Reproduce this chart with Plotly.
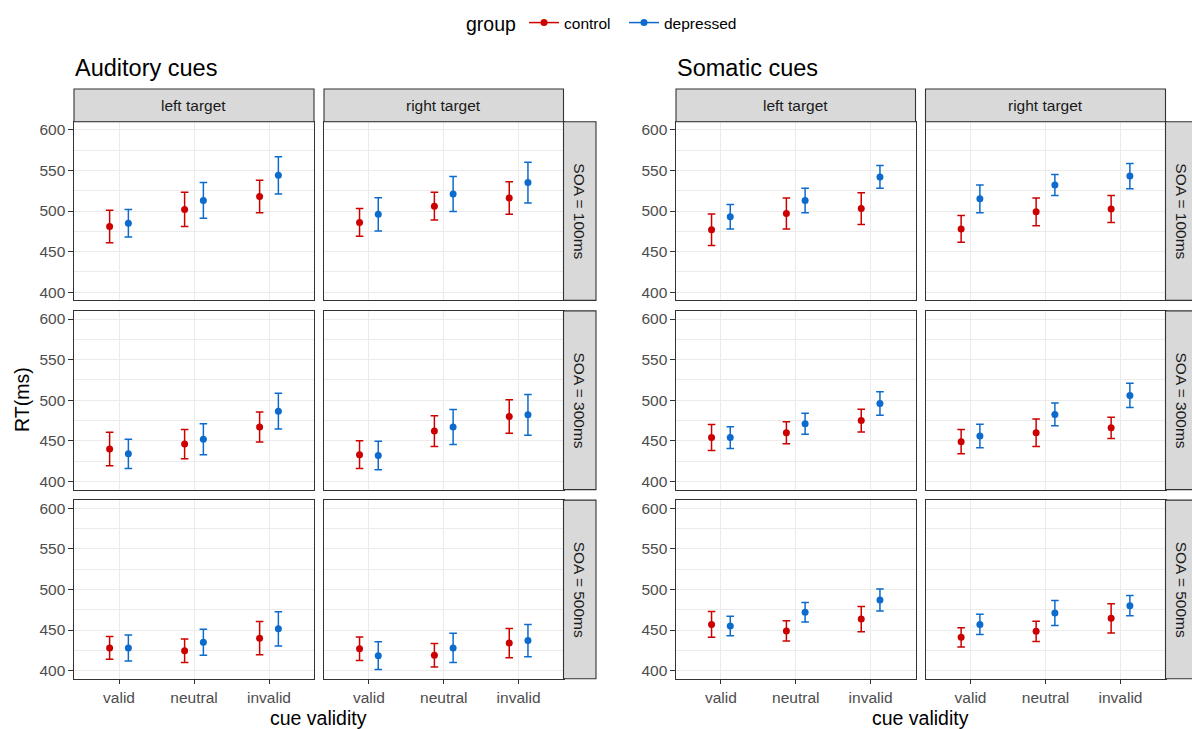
import plotly.graph_objects as go

W, H = 1192, 729

# ---- data -------------------------------------------------------------
modalities = ["Auditory cues", "Somatic cues"]
targets = ["left target", "right target"]
soas = ["SOA = 100ms", "SOA = 300ms", "SOA = 500ms"]
validity = ["valid", "neutral", "invalid"]
groups = ["control", "depressed"]

# mean RT (ms) and error half-width, indexed [soa][target][validity]
aud_control_mean = [
    [[481, 502, 518], [486, 506, 516]],
    [[440, 446, 467], [433, 462, 480]],
    [[428, 424.5, 440], [427, 419, 434]],
]
aud_control_err = [
    [[20, 21, 20], [17, 17, 20]],
    [[20.5, 18, 18.5], [17, 19, 20.5]],
    [[14, 14.5, 20.5], [14.5, 14.5, 18]],
]
aud_depressed_mean = [
    [[485, 513, 544], [496, 521, 535]],
    [[434, 452, 486.5], [432, 467, 482]],
    [[428, 435, 451.5], [418.5, 428, 437]],
]
aud_depressed_err = [
    [[17, 22, 23], [20.5, 21.5, 25]],
    [[18, 19, 22], [17.5, 21.5, 25]],
    [[16, 16, 21], [17, 18, 20]],
]
som_control_mean = [
    [[477, 497, 503], [478, 499, 502.5]],
    [[454, 460, 475], [449, 460, 466]],
    [[457, 449, 463.5], [441, 448.5, 464.5]],
]
som_control_err = [
    [[19.5, 19, 19.5], [16.5, 17, 16.5]],
    [[16, 13.5, 14], [15, 17, 13]],
    [[16, 12.5, 15.5], [12, 12.5, 18]],
]
som_depressed_mean = [
    [[493, 513, 542], [515, 532, 543]],
    [[454, 471, 496], [456, 482.5, 506]],
    [[455, 472, 487], [457, 471, 480]],
]
som_depressed_err = [
    [[15, 15, 14], [17, 13, 15.5]],
    [[13.5, 13, 14.5], [14.5, 14, 15]],
    [[12, 12, 13.5], [12.5, 15.5, 12.5]],
]

y_ticks = [400, 450, 500, 550, 600]

# ---- styling ----------------------------------------------------------
FONT = "Liberation Sans, Arial, Helvetica, sans-serif"
colors = {"control": "#CD0000", "depressed": "#0C6BCD"}
dodge = {"control": -0.125, "depressed": 0.125}
series = {
    ("Auditory cues", "control"): (aud_control_mean, aud_control_err),
    ("Auditory cues", "depressed"): (aud_depressed_mean, aud_depressed_err),
    ("Somatic cues", "control"): (som_control_mean, som_control_err),
    ("Somatic cues", "depressed"): (som_depressed_mean, som_depressed_err),
}

# panel geometry in pixels
col_px = {
    "Auditory cues": [(74, 314), (324, 563.5)],
    "Somatic cues": [(676, 915.5), (925.5, 1165.5)],
}
row_px = [(121.7, 300.4), (310.9, 489.6), (500.1, 678.8)]
strip_top = 89.0
strip_w = 32.5


def px_x(v):
    return v / W


def px_y(v):
    return 1 - v / H


fig = go.Figure()
layout = {}
shapes = []
annotations = []

n = 0
for modality in modalities:
    for r in range(3):
        for c in range(2):
            n += 1
            xa = "x" if n == 1 else f"x{n}"
            ya = "y" if n == 1 else f"y{n}"
            x0, x1 = col_px[modality][c]
            y0, y1 = row_px[r]
            bottom = r == 2
            left = c == 0
            layout["xaxis" if n == 1 else f"xaxis{n}"] = dict(
                domain=[px_x(x0), px_x(x1)],
                anchor=ya,
                range=[0.4, 3.6],
                tickvals=[1, 2, 3],
                ticktext=validity,
                showticklabels=bottom,
                ticks="outside" if bottom else "",
                ticklen=4.5,
                tickwidth=1.1,
                tickcolor="#333333",
                tickfont=dict(family=FONT, size=15.5, color="#4D4D4D"),
                showgrid=True,
                gridcolor="#EBEBEB",
                gridwidth=1.2,
                zeroline=False,
                showline=True,
                mirror=True,
                linecolor="#333333",
                linewidth=1.1,
                fixedrange=True,
            )
            layout["yaxis" if n == 1 else f"yaxis{n}"] = dict(
                domain=[px_y(y1), px_y(y0)],
                anchor=xa,
                range=[390, 610],
                tickvals=y_ticks,
                showticklabels=left,
                ticks="outside" if left else "",
                ticklen=4.5,
                tickwidth=1.1,
                tickcolor="#333333",
                tickfont=dict(family=FONT, size=15.5, color="#4D4D4D"),
                showgrid=True,
                gridcolor="#EBEBEB",
                gridwidth=1.2,
                minor=dict(
                    tickvals=[425, 475, 525, 575],
                    showgrid=True,
                    gridcolor="#EBEBEB",
                    gridwidth=0.6,
                    ticks="",
                ),
                zeroline=False,
                showline=True,
                mirror=True,
                linecolor="#333333",
                linewidth=1.1,
                fixedrange=True,
            )

            for g in groups:
                mean, err = series[(modality, g)]
                fig.add_trace(
                    go.Scatter(
                        x=[i + 1 + dodge[g] for i in range(len(validity))],
                        y=mean[r][c],
                        error_y=dict(
                            type="data",
                            array=err[r][c],
                            color=colors[g],
                            thickness=1.5,
                            width=3.8,
                        ),
                        mode="markers",
                        marker=dict(color=colors[g], size=7),
                        name=g,
                        showlegend=False,
                        xaxis=xa,
                        yaxis=ya,
                    )
                )

            # top strips
            if r == 0:
                shapes.append(dict(
                    type="rect", xref="paper", yref="paper",
                    x0=px_x(x0), x1=px_x(x1), y0=px_y(y0), y1=px_y(strip_top),
                    fillcolor="#D9D9D9", line=dict(color="#333333", width=1.1),
                    layer="above",
                ))
                annotations.append(dict(
                    text=targets[c], xref="paper", yref="paper",
                    x=px_x((x0 + x1) / 2), y=px_y((y0 + strip_top) / 2),
                    showarrow=False, xanchor="center", yanchor="middle",
                    font=dict(family=FONT, size=15.5, color="#1A1A1A"),
                ))
            # side strips
            if c == 1:
                shapes.append(dict(
                    type="rect", xref="paper", yref="paper",
                    x0=px_x(x1), x1=px_x(x1 + strip_w), y0=px_y(y1), y1=px_y(y0),
                    fillcolor="#D9D9D9", line=dict(color="#333333", width=1.1),
                    layer="above",
                ))
                annotations.append(dict(
                    text=soas[r], xref="paper", yref="paper",
                    x=px_x(x1 + strip_w / 2), y=px_y((y0 + y1) / 2),
                    showarrow=False, xanchor="center", yanchor="middle",
                    textangle=90,
                    font=dict(family=FONT, size=15.5, color="#1A1A1A"),
                ))

    # block title and x-axis title
    left_x = col_px[modality][0][0]
    right_x = col_px[modality][1][1]
    annotations.append(dict(
        text=modality, xref="paper", yref="paper",
        x=px_x(left_x - 1), y=px_y(68), showarrow=False,
        xanchor="left", yanchor="middle",
        font=dict(family=FONT, size=23.5, color="#000000"),
    ))
    annotations.append(dict(
        text="cue validity", xref="paper", yref="paper",
        x=px_x((left_x + right_x) / 2), y=px_y(718), showarrow=False,
        xanchor="center", yanchor="middle",
        font=dict(family=FONT, size=19.5, color="#000000"),
    ))

annotations.append(dict(
    text="RT(ms)", xref="paper", yref="paper",
    x=px_x(22), y=px_y(400), showarrow=False,
    xanchor="center", yanchor="middle", textangle=-90,
    font=dict(family=FONT, size=19.5, color="#000000"),
))

# legend entries: one legend box per group so each key sits at its own spot
legend_ids = {"control": "legend", "depressed": "legend2"}
for g in groups:
    fig.add_trace(go.Scatter(
        x=[None], y=[None], mode="lines+markers", name=g,
        line=dict(color=colors[g], width=1.5),
        marker=dict(color=colors[g], size=7),
        xaxis="x", yaxis="y", showlegend=True,
        legend=legend_ids[g],
    ))

legend_common = dict(
    orientation="h",
    y=px_y(6), yanchor="top",
    font=dict(family=FONT, size=15.5, color="#000000"),
    bgcolor="rgba(0,0,0,0)",
    itemwidth=30,
)

fig.update_layout(
    **layout,
    width=W,
    height=H,
    margin=dict(l=0, r=0, t=0, b=0),
    paper_bgcolor="white",
    plot_bgcolor="white",
    shapes=shapes,
    annotations=annotations,
    showlegend=True,
    legend=dict(
        x=px_x(464), xanchor="left",
        title=dict(text="group", side="left",
                   font=dict(family=FONT, size=19.5, color="#000000")),
        **legend_common,
    ),
    legend2=dict(
        x=px_x(624), xanchor="left",
        **legend_common,
    ),
)

fig.write_html("out.html")
